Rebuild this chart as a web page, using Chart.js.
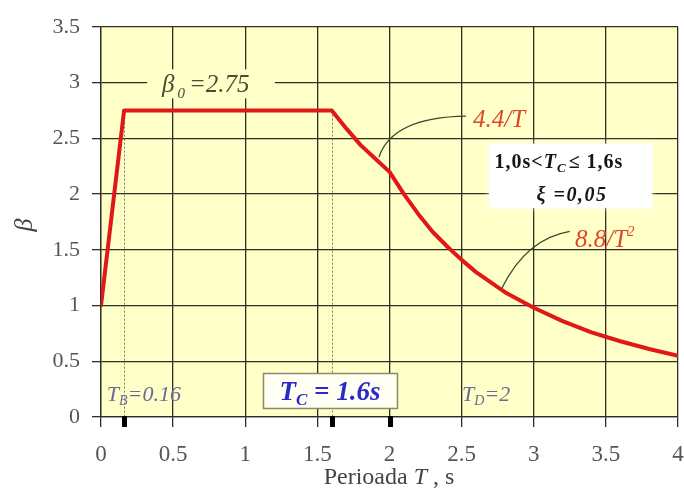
<!DOCTYPE html>
<html>
<head>
<meta charset="utf-8">
<script src="https://cdn.jsdelivr.net/npm/chart.js@4/dist/chart.umd.min.js"></script>
<style>
html,body{margin:0;padding:0;background:#fff;}
canvas{display:block;}
</style>
</head>
<body>
<canvas id="c" width="684" height="491"></canvas>
<script>
// ---- data ----
const periodT = [0, 0.16, 1.6, 1.7, 1.8, 1.9, 2.0, 2.1, 2.2, 2.3, 2.4, 2.5, 2.6, 2.7, 2.8, 2.9, 3.0, 3.2, 3.4, 3.6, 3.8, 4.0];
const betaVal = [1, 2.75, 2.75, 2.59, 2.44, 2.32, 2.20, 2.00, 1.82, 1.66, 1.53, 1.41, 1.30, 1.21, 1.12, 1.05, 0.98, 0.86, 0.76, 0.68, 0.61, 0.55];
const xTickLabels = ['0','0.5','1','1.5','2','2.5','3','3.5','4'];
const yTickLabels = ['0','0.5','1','1.5','2','2.5','3','3.5'];
const markT = [0.16, 1.6, 2];   // T_B, T_C, T_D

const SERIF = '"Liberation Serif","DejaVu Serif",serif';

function pts(xs, ys){ return xs.map((x,i)=>({x:x, y:ys[i]})); }

function runWidth(ctx, segs){
  let w=0; segs.forEach(s=>{ctx.font=s.f; ctx.letterSpacing=(s.ls||0)+'px'; w+=ctx.measureText(s.t).width + (s.gap||0);}); ctx.letterSpacing='0px'; return w;
}
function drawRun(ctx, segs, x, y, align){
  let w = runWidth(ctx, segs);
  let cx = align==='center' ? x - w/2 : x;
  ctx.textBaseline='alphabetic'; ctx.textAlign='left';
  segs.forEach(s=>{
    ctx.font=s.f; ctx.fillStyle=s.c; ctx.letterSpacing=(s.ls||0)+'px';
    ctx.fillText(s.t, cx, y + (s.dy||0));
    cx += ctx.measureText(s.t).width + (s.gap||0);
  });
  ctx.letterSpacing='0px';
}

const decor = {
  id:'decor',
  beforeDraw(chart){
    const {ctx, chartArea:a} = chart;
    ctx.save();
    ctx.fillStyle='#ffffc8';
    ctx.fillRect(a.left, a.top, a.right-a.left, a.bottom-a.top);
    ctx.restore();
  },
  beforeDatasetsDraw(chart){
    const ctx=chart.ctx, X=chart.scales.x, Y=chart.scales.y;
    ctx.save();
    ctx.strokeStyle='#7a7a6a'; ctx.lineWidth=1; ctx.setLineDash([2,2]);
    [markT[0], markT[1]].forEach(t=>{
      ctx.beginPath();
      ctx.moveTo(Math.round(X.getPixelForValue(t))+0.5, Y.getPixelForValue(2.75));
      ctx.lineTo(Math.round(X.getPixelForValue(t))+0.5, Y.getPixelForValue(0));
      ctx.stroke();
    });
    ctx.setLineDash([]);
    ctx.fillStyle='#ffffc8';
    ctx.fillRect(X.getPixelForValue(0.32), Y.getPixelForValue(3.12), X.getPixelForValue(1.205)-X.getPixelForValue(0.32), Y.getPixelForValue(2.86)-Y.getPixelForValue(3.12));
    ctx.fillStyle='#ffffff';
    ctx.shadowColor='rgba(255,255,255,0.9)'; ctx.shadowBlur=6;
    const bx0=X.getPixelForValue(2.69), bx1=X.getPixelForValue(3.82);
    const by0=Y.getPixelForValue(2.45), by1=Y.getPixelForValue(1.876);
    ctx.fillRect(bx0, by0, bx1-bx0, by1-by0);
    ctx.restore();
  },
  afterDraw(chart){
    const ctx=chart.ctx, X=chart.scales.x, Y=chart.scales.y;
    const px=v=>X.getPixelForValue(v), py=v=>Y.getPixelForValue(v);
    ctx.save();
    ctx.fillStyle='#000';
    markT.forEach(t=>{ ctx.fillRect(Math.round(px(t))-2, py(0)-1, 5, 11); });

    ctx.strokeStyle='#3a4a30'; ctx.lineWidth=1.3;
    ctx.beginPath(); ctx.moveTo(px(1.927), py(2.333));
    ctx.quadraticCurveTo(px(2.02), py(2.69), px(2.53), py(2.70)); ctx.stroke();
    ctx.beginPath(); ctx.moveTo(px(2.78), py(1.158));
    ctx.quadraticCurveTo(px(2.95), py(1.60), px(3.25), py(1.665)); ctx.stroke();

    const red='#e0442a';
    drawRun(ctx,[{t:'4.4/T', f:'italic 25px '+SERIF, c:red}], px(2.579), py(2.60), 'left');
    drawRun(ctx,[{t:'8.8/T', f:'italic 25px '+SERIF, c:red},{t:'2', f:'italic 15px '+SERIF, c:red, dy:-11}], px(3.286), py(1.526), 'left');

    const g='#4a4a3a';
    drawRun(ctx,[{t:'β', f:'italic 25px '+SERIF, c:g, gap:3},{t:'0', f:'italic 15px '+SERIF, c:g, dy:6, gap:4},{t:'=2.75', f:'italic 25px '+SERIF, c:g}], px(0.423), py(2.917), 'left');

    const k='#151515';
    drawRun(ctx,[{t:'1,0s<', f:'bold 20px '+SERIF, c:k, ls:1},{t:'T', f:'bold italic 20px '+SERIF, c:k, ls:1},{t:'C', f:'bold italic 13px '+SERIF, c:k, dy:4, gap:3},{t:'≤ 1,6s', f:'bold 20px '+SERIF, c:k, ls:1}], px(3.175), py(2.235), 'center');
    drawRun(ctx,[{t:'ξ =0,05', f:'bold italic 20px '+SERIF, c:k, ls:1.5}], px(3.265), py(1.94), 'center');

    const b='#6a6a9a';
    drawRun(ctx,[{t:'T', f:'italic 22px '+SERIF, c:b},{t:'B', f:'italic 14px '+SERIF, c:b, dy:4},{t:'=0.16', f:'italic 22px '+SERIF, c:b}], px(0.04), py(0.144), 'left');
    drawRun(ctx,[{t:'T', f:'italic 22px '+SERIF, c:b},{t:'D', f:'italic 14px '+SERIF, c:b, dy:4},{t:'=2', f:'italic 22px '+SERIF, c:b}], px(2.503), py(0.144), 'left');

    const cx0=px(1.123), cx1=px(2.052), cy0=py(0.395), cy1=py(0.081);
    ctx.fillStyle='#fffff4'; ctx.fillRect(cx0, cy0, cx1-cx0, cy1-cy0);
    ctx.strokeStyle='#8a8a6a'; ctx.lineWidth=1.5; ctx.strokeRect(cx0+0.5, cy0+0.5, cx1-cx0, cy1-cy0);
    const bl='#2a2ac8';
    drawRun(ctx,[{t:'T', f:'bold italic 27px '+SERIF, c:bl},{t:'C', f:'bold italic 17px '+SERIF, c:bl, dy:5},{t:' = 1.6s', f:'bold italic 27px '+SERIF, c:bl}], (cx0+cx1)/2, py(0.153), 'center');

    const t='#444';
    drawRun(ctx,[{t:'Perioada ', f:'24px '+SERIF, c:t},{t:'T', f:'italic 24px '+SERIF, c:t},{t:' , s', f:'24px '+SERIF, c:t}], 389, 484, 'center');
    ctx.translate(24, 225); ctx.rotate(-Math.PI/2);
    drawRun(ctx,[{t:'β', f:'italic 26px '+SERIF, c:t}], 0, 8, 'center');
    ctx.restore();
  }
};

new Chart(document.getElementById('c'), {
  type:'line',
  data:{
    datasets:[
      {data:pts(periodT, betaVal), borderColor:'#e01818', borderWidth:4, pointRadius:0, tension:0, borderCapStyle:'round', borderJoinStyle:'round'}
    ]
  },
  options:{
    responsive:false, animation:false,
    layout:{padding:{left:0, right:6, top:27, bottom:0}},
    plugins:{legend:{display:false}, tooltip:{enabled:false}},
    scales:{
      x:{type:'linear', min:0, max:4,
        ticks:{stepSize:0.5, color:'#555', font:{family:SERIF, size:23}, padding:14, maxRotation:0,
          callback:(v,i)=>xTickLabels[i]},
        grid:{color:'#2e2e22', lineWidth:1.3, tickLength:10},
        border:{color:'#2e2e22', width:1.3},
        afterFit(s){ s.height=74; s.paddingLeft=0; s.paddingRight=0; }
      },
      y:{type:'linear', min:0, max:3.5,
        ticks:{stepSize:0.5, color:'#555', font:{family:SERIF, size:22}, padding:12,
          callback:(v,i)=>yTickLabels[i]},
        grid:{color:'#2e2e22', lineWidth:1.3, tickLength:9},
        border:{color:'#2e2e22', width:1.3},
        afterFit(s){ s.width=101; s.paddingTop=0; s.paddingBottom=0; }
      }
    }
  },
  plugins:[decor]
});
</script>
</body>
</html>
